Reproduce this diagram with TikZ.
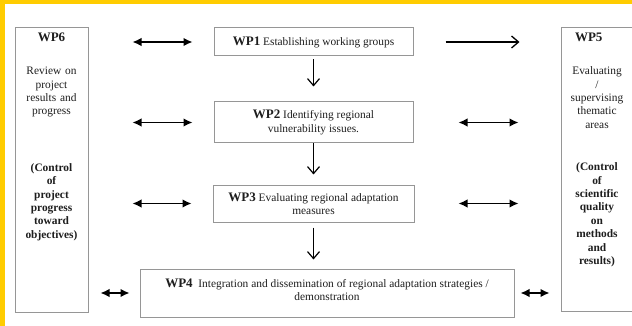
\documentclass[tikz,border=0pt]{standalone}
\usepackage{fontspec}
\setmainfont{Liberation Serif}
\usetikzlibrary{arrows.meta,positioning}

\definecolor{frameyellow}{RGB}{255,204,0}
\definecolor{boxgray}{RGB}{150,150,150}
\definecolor{inkgray}{RGB}{30,30,30}
\newcommand{\wphead}[1]{{\fontsize{13}{15}\selectfont\bfseries #1}}

\begin{document}
\begin{tikzpicture}[x=1pt, y=-1pt,
    font=\fontsize{11.4}{13.4}\selectfont, text=inkgray,
    wpbox/.style ={draw=boxgray, line width=1pt, inner sep=0pt, align=center},
    sidetext/.style ={inner sep=0pt, text width=70pt, align=center},
    both/.style ={{Latex[length=9pt,width=8.5pt]}-{Latex[length=9pt,width=8.5pt]}, line width=1.5pt},
    flow/.style ={-{Straight Barb[length=7pt,width=12pt]}, line width=1.2pt}]
   \useasboundingbox (0,0) rectangle (632,326);
   \fill[white] (0,0) rectangle (632,326);
   \fill[frameyellow] (0,0) rectangle (5,326);
   \fill[frameyellow] (0,0) rectangle (632,4);

   \node[wpbox, minimum width=73pt, minimum height=284pt] (WP6) at (51.5,170)  {};
   \node[wpbox, minimum width=80pt, minimum height=283pt] (WP5) at (601,169.5)  {};
   \node[wpbox, minimum width=199pt, minimum height=28pt] (WP1) at (313.5,42)  {\wphead{WP1} Establishing working groups};
   \node[wpbox, minimum width=199pt, minimum height=41pt] (WP2) at (313.5,122.5)  {\wphead{WP2} Identifying regional\\vulnerability issues.};
   \node[wpbox, minimum width=201pt, minimum height=37pt] (WP3) at (313.5,203.5)  {\wphead{WP3} Evaluating regional adaptation\\measures};
   \node[wpbox, minimum width=374pt, minimum height=48pt] (WP4) at (327,293)  {\wphead{WP4}\ \ Integration and dissemination of regional adaptation strategies /\\demonstration\rule[-6pt]{0pt}{0pt}};

   \node[sidetext, below=5pt of WP6.north] (WP6txt) {\wphead{WP6}\\[20pt]
     Review on\\project\\results and\\progress\\[43pt]
     \textbf{(Control\\of\\project\\progress\\toward\\objectives)}};
   \node[sidetext, below=5pt of WP5.north, xshift=-4pt] (WP5txt) {\makebox[70pt][l]{\hspace{13pt}\wphead{WP5}}\\[20pt]
     Evaluating\\/\\supervising\\thematic\\areas\\[29pt]
     \textbf{(Control\\of\\scientific\\quality\\on\\methods\\and\\results)}};

   \draw[flow, shorten <=3pt, shorten >=15pt] (WP1.south) to (WP1.south |- WP2.north);
   \draw[flow, shorten >=10pt] (WP2.south) to (WP2.south |- WP3.north);
   \draw[flow, shorten <=5pt, shorten >=9pt] (WP3.south) to (WP3.south |- WP4.north);

   \draw[both, shorten <=44pt, shorten >=21pt] (WP6.east |- WP1.west) to (WP1.west);
   \draw[both, shorten <=44pt, shorten >=21pt] (WP6.east |- WP2.west) to (WP2.west);
   \draw[both, shorten <=44pt, shorten >=21pt] (WP6.east |- WP3.west) to (WP3.west);
   \draw[both, shorten <=12pt, shorten >=10pt] (WP6.east |- WP4.west) to (WP4.west);

   \draw[flow, line width=1.3pt, shorten <=32pt, shorten >=41pt] (WP1.east) to (WP1.east -| WP5.west);
   \draw[both, shorten <=45pt, shorten >=42pt] (WP2.east) to (WP2.east -| WP5.west);
   \draw[both, shorten <=44pt, shorten >=42pt] (WP3.east) to (WP3.east -| WP5.west);
   \draw[both, shorten <=6pt, shorten >=11pt] (WP4.east) to (WP4.east -| WP5.west);
 \end{tikzpicture}
\end{document}
